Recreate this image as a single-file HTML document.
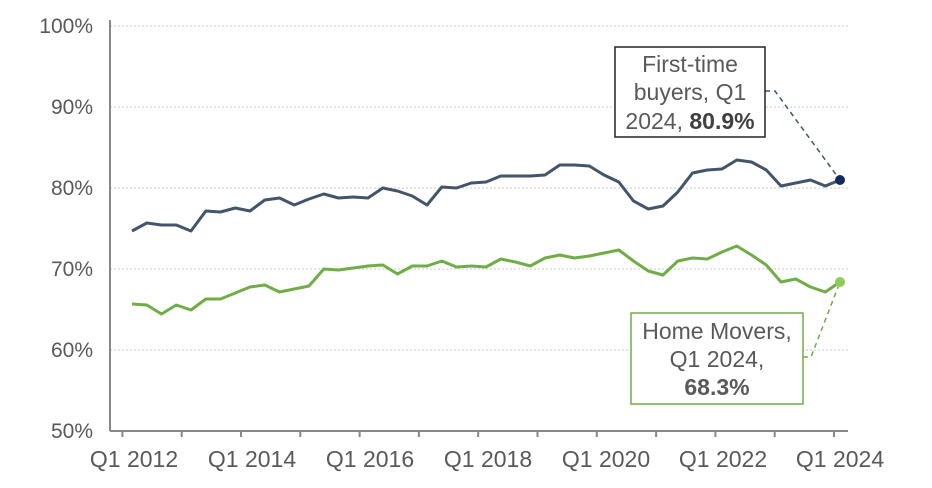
<!DOCTYPE html>
<html><head><style>body{margin:0;background:#fff}svg{display:block}text{font-family:"Liberation Sans",Arial,sans-serif;fill:#595959}</style></head>
<body>
<svg width="932" height="488" viewBox="0 0 932 488" xmlns="http://www.w3.org/2000/svg">
<g stroke="#c8c8c8" stroke-width="1" stroke-dasharray="2,2">
<line x1="110" y1="26" x2="848" y2="26"/><line x1="110" y1="107" x2="848" y2="107"/><line x1="110" y1="188" x2="848" y2="188"/><line x1="110" y1="269" x2="848" y2="269"/><line x1="110" y1="350" x2="848" y2="350"/>
</g>
<line x1="110" y1="20" x2="110" y2="431" stroke="#888" stroke-width="2"/>
<line x1="110" y1="431" x2="848" y2="431" stroke="#888" stroke-width="2"/>
<g stroke="#888" stroke-width="2" id="t"></g>
<g font-size="21" text-anchor="end">
<text x="93" y="33">100%</text><text x="93" y="114">90%</text><text x="93" y="195">80%</text><text x="93" y="276">70%</text><text x="93" y="357">60%</text><text x="93" y="438">50%</text>
</g>
<g font-size="23" text-anchor="middle">
<text x="134" y="467">Q1 2012</text><text x="252" y="467">Q1 2014</text><text x="370" y="467">Q1 2016</text><text x="488" y="467">Q1 2018</text><text x="606" y="467">Q1 2020</text><text x="723" y="467">Q1 2022</text><text x="840" y="467">Q1 2024</text>
</g>
<polyline id="d" fill="none" stroke="#44546a" stroke-width="3" stroke-linejoin="round"/>
<polyline id="g" fill="none" stroke="#70ad47" stroke-width="3" stroke-linejoin="round"/>
<polyline points="765,91 775,91 840,180" fill="none" stroke="#44546a" stroke-width="1.5" stroke-dasharray="5,4"/>
<polyline points="803,357 811,357 840,282" fill="none" stroke="#70ad47" stroke-width="1.5" stroke-dasharray="5,4"/>
<circle cx="840" cy="180" r="5" fill="#132a5e"/>
<circle cx="840" cy="282" r="5" fill="#8fcc5a"/>
<rect x="615" y="47" width="150" height="90" fill="#fff" stroke="#222" stroke-width="1.5"/>
<g font-size="23" text-anchor="middle">
<text x="690" y="72">First-time</text><text x="690" y="100">buyers, Q1</text><text x="690" y="129">2024, <tspan font-weight="bold" fill="#404040">80.9%</tspan></text>
</g>
<rect x="631" y="313" width="172" height="91" fill="#fff" stroke="#70ad47" stroke-width="1.5"/>
<g font-size="23" text-anchor="middle">
<text x="717" y="339">Home Movers,</text><text x="717" y="367">Q1 2024,</text><text x="717" y="395" font-weight="bold" fill="#404040">68.3%</text>
</g>
</svg>
<script>
var D=[231,223,225,225,231,211,212,208,211,200,198,205,199,194,198,197,198,188,191,196,205,187,188,183,182,176,176,176,175,165,165,166,175,182,201,209,206,192,173,170,169,160,162,170,186,183,180,186,180];
var G=[304,305,314,305,310,299,299,293,287,285,292,289,286,269,270,268,266,265,274,266,266,261,267,266,267,259,262,266,258,255,258,256,253,250,261,271,275,261,258,259,252,246,255,265,282,279,287,292,282];
function p(a){return a.map(function(y,i){return (132+i*14.75).toFixed(1)+","+y}).join(" ")}
document.getElementById("d").setAttribute("points",p(D));
document.getElementById("g").setAttribute("points",p(G));
var t=document.getElementById("t"),s="";
for(var i=0;i<13;i++){var x=(834-i*59.3).toFixed(1);s+='<line x1="'+x+'" y1="431" x2="'+x+'" y2="437"/>';}
t.innerHTML=s;
</script>
</body></html>
